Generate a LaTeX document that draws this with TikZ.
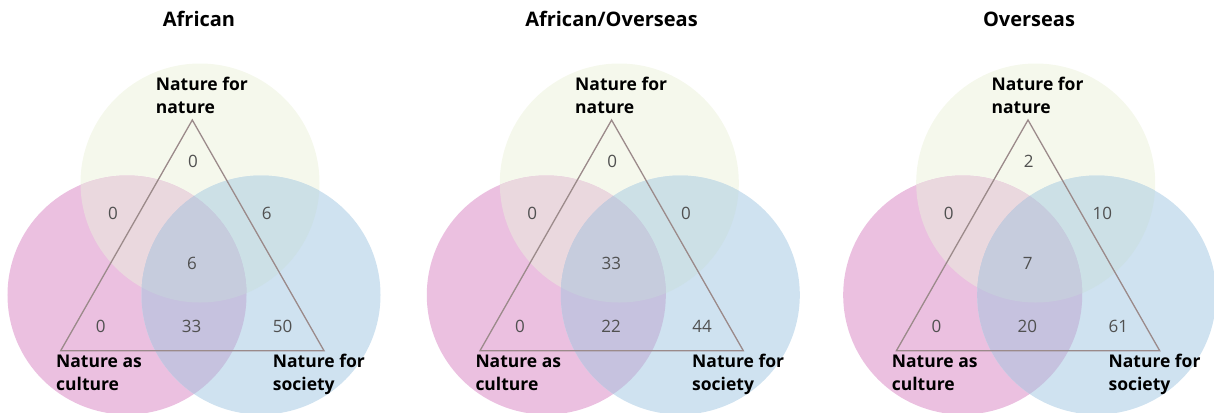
\documentclass[tikz,border=0pt]{standalone}
\usepackage{fontspec}
\setmainfont{Open Sans}
\definecolor{cy}{HTML}{F5F8EC}
\definecolor{cp}{HTML}{EBC0E0}
\definecolor{cb}{HTML}{CFE2F0}
\definecolor{cyp}{HTML}{EAD8DE}
\definecolor{cyb}{HTML}{CCE0E6}
\definecolor{cpb}{HTML}{C6C2DF}
\definecolor{cypb}{HTML}{C6CCDD}
\definecolor{tri}{HTML}{9B8A8A}
\definecolor{numc}{HTML}{505050}
\tikzset{
  paneltitle/.style={font=\fontsize{20bp}{24bp}\selectfont\bfseries, anchor=base, inner sep=0pt, text=black},
  catlabel/.style={font=\fontsize{17.5bp}{23bp}\selectfont\bfseries, anchor=base west, align=left, inner sep=0pt, text=black},
  numlabel/.style={font=\fontsize{17bp}{20bp}\selectfont, text=numc, inner sep=0pt, anchor=center},
  triline/.style={draw=tri, line width=1.3bp, line join=miter},
}
\newcommand\vennpanel[9]{%
\begin{scope}[shift={(#1,0)}]
  \fill[cy] (200,183) circle (119.5bp);
  \fill[cp] (127,295) circle (119.5bp);
  \fill[cb] (261,295) circle (119.5bp);
  \begin{scope}
    \clip (200,183) circle (119.5bp);
    \fill[cyp] (127,295) circle (119.5bp);
    \fill[cyb] (261,295) circle (119.5bp);
  \end{scope}
  \begin{scope}
    \clip (127,295) circle (119.5bp);
    \fill[cpb] (261,295) circle (119.5bp);
    \clip (200,183) circle (119.5bp);
    \fill[cypb] (261,295) circle (119.5bp);
  \end{scope}
  \coordinate (#2T) at (192.3,120);
  \coordinate (#2L) at (60.7,350.7);
  \coordinate (#2R) at (324,350.7);
  \draw[triline] (#2T) -- (#2L) -- (#2R) -- cycle;
  \node[catlabel] (#2lnn) at (155.7,113.5) {Nature for\\nature};
  \node[catlabel] (#2lnc) at (56,390.7) {Nature as\\culture};
  \node[catlabel] (#2lns) at (272.7,390.7) {Nature for\\society};
  \node[numlabel] (#2n1) at (193,161.3) {#3};
  \node[numlabel] (#2n2) at (113,213.3) {#4};
  \node[numlabel] (#2n3) at (266.7,213.3) {#5};
  \node[numlabel] (#2n4) at (192,263.3) {#6};
  \node[numlabel] (#2n5) at (100.7,326) {#7};
  \node[numlabel] (#2n6) at (191.7,326) {#8};
  \node[numlabel] (#2n7) at (282.7,326) {#9};
\end{scope}}
\begin{document}
\begin{tikzpicture}[x=1bp,y=-1bp]
  \useasboundingbox (0,0) rectangle (1214,412);
  \clip (0,0) rectangle (1214,412);
  \vennpanel{0}{a}{0}{0}{6}{6}{0}{33}{50}
  \vennpanel{419.3}{b}{0}{0}{0}{33}{0}{22}{44}
  \vennpanel{835.7}{c}{2}{0}{10}{7}{0}{20}{61}
  \node[paneltitle] (ta) at (199,26.7) {African};
  \node[paneltitle] (tb) at (611.5,26.7) {African/Overseas};
  \node[paneltitle] (tc) at (1029,26.7) {Overseas};
\end{tikzpicture}
\end{document}
